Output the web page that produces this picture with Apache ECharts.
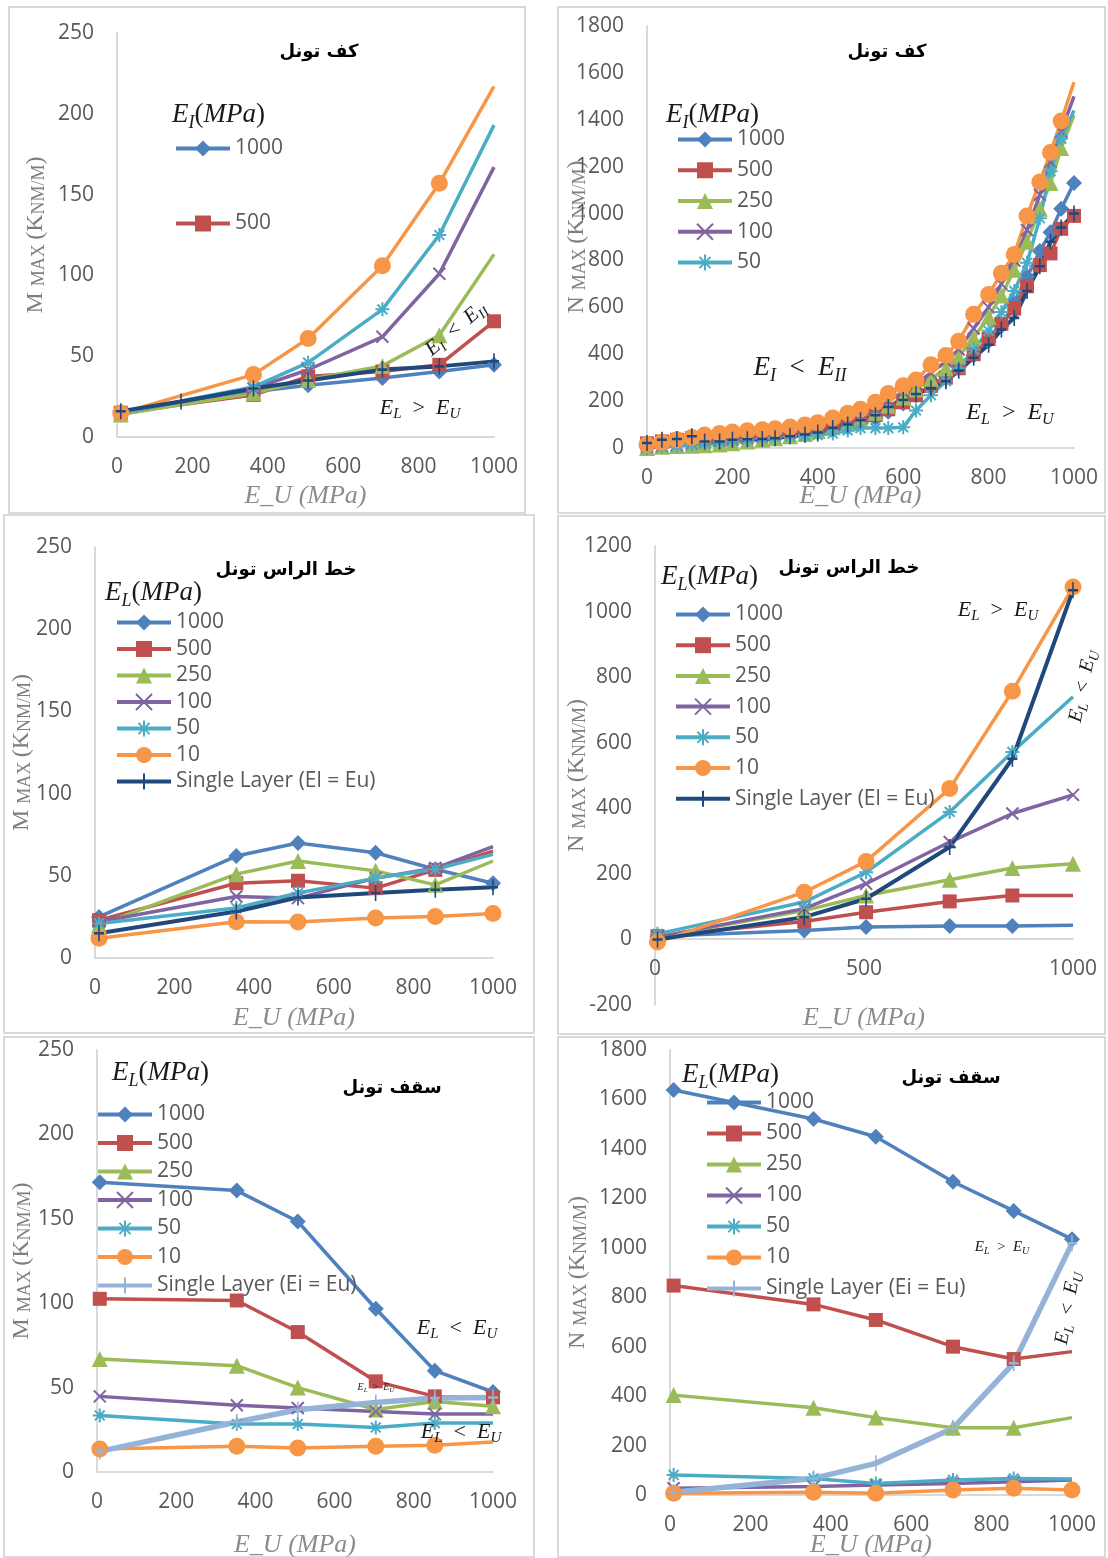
<!DOCTYPE html>
<html><head><meta charset="utf-8">
<script src="https://cdn.jsdelivr.net/npm/echarts@6/dist/echarts.min.js"></script>
<style>html,body{margin:0;padding:0;background:#fff}#c{width:1108px;height:1558px}</style>
</head><body><div id="c"></div>
<script>
// ---------- DATA ----------
// Panel 1: floor, M max
const p1X = [10, 362, 507, 704, 855, 1000];
const p1SingleX = [10, 170, 362, 507, 704, 855, 1000];
const p1_1000 = [14, 28, 32, 36.5, 40.6, 44.7];
const p1_500 = [15, 26, 37.5, 40.6, 44.7, 71.6];
const p1_250 = [14, 27, 35.5, 44, 63, 113];
const p1_100 = [15, 30, 41.6, 62, 101, 167];
const p1_50 = [15, 31, 46, 79, 125, 193];
const p1_10 = [14.8, 38.6, 61, 106, 157, 217];
const p1_single = [16, 22, 30, 35, 41.7, 43.7, 46.8];

// Panel 2: floor, N max
const p2X = [0, 35, 70, 105, 135, 170, 200, 235, 270, 300, 335, 370, 400, 435, 470, 500, 535, 565, 600, 630, 665, 700, 730, 765, 800, 830, 860, 890, 920, 945, 970, 1000];
const p2_1000 = [10, 15, 20, 25, 30, 34, 38, 42, 46, 50, 55, 60, 66, 76, 88, 104, 126, 155, 190, 225, 265, 305, 345, 395, 455, 520, 620, 730, 840, 920, 1020, 1130];
const p2_500 = [20, 28, 35, 42, 45, 50, 55, 60, 65, 70, 80, 90, 100, 110, 118, 125, 140, 165, 195, 225, 265, 300, 340, 400, 465, 530, 595, 690, 780, 830, 935, 990];
const p2_250 = [0, 5, 8, 10, 12, 15, 20, 28, 35, 42, 50, 60, 72, 88, 105, 125, 150, 180, 215, 250, 295, 340, 390, 470, 560, 650, 760, 880, 1020, 1130, 1280, 1420];
const p2_100 = [5, 8, 12, 18, 24, 30, 35, 42, 50, 58, 65, 75, 85, 100, 118, 138, 165, 200, 240, 275, 320, 370, 420, 510, 600, 700, 800, 930, 1080, 1220, 1350, 1500];
const p2_50 = [0, 5, 10, 15, 20, 25, 30, 35, 40, 45, 48, 52, 55, 62, 75, 85, 85, 85, 88, 160, 225, 285, 340, 420, 500, 580, 670, 790, 980, 1180, 1320, 1440];
const p2_10 = [15, 25, 35, 45, 55, 62, 68, 74, 78, 82, 90, 98, 108, 128, 148, 165, 195, 232, 265, 290, 355, 395, 455, 570, 655, 745, 825, 990, 1135, 1260, 1395, 1560];
const p2_single = [21, 35, 38, 50, 28, 28, 35, 37, 38, 42, 50, 58, 66, 85, 100, 118, 140, 175, 205, 230, 255, 285, 330, 385, 440, 505, 555, 670, 775, 880, 940, 1000];

// Panel 3: crown line, M max
const p3X = [10, 355, 510, 705, 855, 1000];
const p3_1000 = [25, 62, 70, 64, 54, 45.5];
const p3_500 = [23, 45.5, 47, 42.5, 53.6, 65];
const p3_250 = [20, 51, 59, 53, 44.5, 59];
const p3_100 = [22, 37.4, 36.4, 48.6, 54.7, 67.8];
const p3_50 = [21, 30.4, 39.5, 48.6, 54, 63];
const p3_10 = [12, 22, 21.9, 24.3, 25.3, 27];
const p3_single = [15, 28.3, 36.8, 39.5, 41.5, 43];

// Panel 4: crown line, N max
const p4X = [6, 357, 505, 705, 855, 1000];
const p4_1000 = [10, 27, 38, 41, 41, 43];
const p4_500 = [10, 55, 83, 116, 134, 134];
const p4_250 = [7, 88, 134, 182, 218, 231];
const p4_100 = [7, 94, 170, 297, 384, 441];
const p4_50 = [17, 114, 205, 389, 572, 740];
const p4_10 = [-8, 144, 238, 460, 757, 1075];
const p4_single = [0, 68, 124, 282, 551, 1065];

// Panel 5: roof, M max
const p5X = [7, 353, 507, 704, 853, 1000];
const p5_1000 = [171.7, 166.7, 148.4, 96.7, 60, 47.4];
const p5_500 = [102.6, 101.6, 82.9, 53.7, 44.8, 44.2];
const p5_250 = [67, 63, 50, 37, 41.8, 38.9];
const p5_100 = [44.8, 39.5, 37.9, 35.9, 34.3, 34.3];
const p5_50 = [33.5, 28.4, 28.4, 26.4, 29, 29];
const p5_10 = [13.6, 15.2, 14.2, 15.2, 15.8, 17.8];
const p5_single = [12.2, 29.6, 36.9, 41.2, 43.8, 44.2];

// Panel 6: roof, N max
const p6X = [9, 357, 512, 704, 855, 1000];
const p6_1000 = [1638, 1521, 1449, 1267, 1149, 1035];
const p6_500 = [847, 771, 708, 600, 550, 580];
const p6_250 = [404, 353, 313, 272, 272, 313];
const p6_100 = [27, 34, 40, 47, 54, 61];
const p6_50 = [81, 67, 47, 61, 67, 65];
const p6_10 = [7, 11, 7, 20, 27, 20];
const p6_single = [11, 67, 128, 270, 533, 1018];

const SINGLE_L = 'Single Layer (El = Eu)';
const SINGLE_I = 'Single Layer (Ei = Eu)';
const panelTitles = ['كف تونل', 'كف تونل', 'خط الراس تونل', 'خط الراس تونل', 'سقف تونل', 'سقف تونل'];
const yNamesBig = ['M', 'N', 'M', 'N', 'M', 'N'];
const yRanges = [[0, 250, 50], [0, 1800, 200], [0, 250, 50], [-200, 1200, 200], [0, 250, 50], [0, 1800, 200]];
const xIntervals = [200, 200, 200, 500, 200, 200];

// ---------- STYLE ----------
const COL = {'1000': '#4F81BD', '500': '#C0504D', '250': '#9BBB59', '100': '#8064A2', '50': '#4BACC6', '10': '#F79646', single: '#1F497D', singleLight: '#95B3D7'};
const SYM = {
  '1000': {symbol: 'diamond', size: 16},
  '500': {symbol: 'rect', size: 14},
  '250': {symbol: 'triangle', size: 16},
  '100': {symbol: 'path://M0,0L10,10M10,0L0,10', size: 12, stroke: true},
  '50': {symbol: 'path://M5,0L5,10M0,5L10,5M1.5,1.5L8.5,8.5M8.5,1.5L1.5,8.5', size: 14, stroke: true},
  '10': {symbol: 'circle', size: 17},
  single: {symbol: 'path://M5,0L5,16M0,8L10,8', size: [10, 16], stroke: true},
  singleLight: {symbol: 'path://M5,0L5,16M0,8L10,8', size: [10, 16], stroke: true}
};

const grids = [
  {left: 117, top: 33, width: 377, height: 404},
  {left: 647, top: 26, width: 427, height: 422},
  {left: 95, top: 547, width: 398, height: 411},
  {left: 655, top: 546, width: 418, height: 459},
  {left: 97, top: 1050, width: 396, height: 422},
  {left: 670, top: 1050, width: 402, height: 445}
];
const yNameGaps = [69, 58, 61, 66, 63, 80];
const xNameGaps = [46, 35, 47, 66, 60, 37];
const xOffsets = [0, 0, 0, -66, 0, 0];

function mk(panel, key, name, xs, ys, opts) {
  opts = opts || {};
  const c = COL[key];
  const s = SYM[key];
  const n = xs.length;
  const data = xs.map(function (x, i) {
    const d = {value: [x, ys[i]]};
    if (opts.noLast && i === n - 1) d.symbol = 'none';
    return d;
  });
  return {
    type: 'line', name: name, xAxisIndex: panel, yAxisIndex: panel, data: data,
    symbol: s.symbol, symbolSize: s.size, symbolKeepAspect: false,
    lineStyle: {color: c, width: opts.width || 3.5},
    itemStyle: s.stroke ? {color: c, borderColor: c, borderWidth: 2} : {color: c},
    emphasis: {disabled: true}, z: 2 + (opts.z || 0)
  };
}

const series = [
  mk(0, '1000', '1000', p1X, p1_1000),
  mk(0, '500', '500', p1X, p1_500),
  mk(0, '250', '250', p1X, p1_250, {noLast: true}),
  mk(0, '100', '100', p1X, p1_100, {noLast: true}),
  mk(0, '50', '50', p1X, p1_50, {noLast: true}),
  mk(0, '10', '10', p1X, p1_10, {noLast: true}),
  mk(0, 'single', SINGLE_L, p1SingleX, p1_single, {width: 4}),

  mk(1, '1000', '1000', p2X, p2_1000),
  mk(1, '500', '500', p2X, p2_500),
  mk(1, '250', '250', p2X, p2_250, {noLast: true}),
  mk(1, '100', '100', p2X, p2_100, {noLast: true}),
  mk(1, '50', '50', p2X, p2_50, {noLast: true}),
  mk(1, '10', '10', p2X, p2_10, {noLast: true}),
  mk(1, 'single', SINGLE_L, p2X, p2_single, {width: 4}),

  mk(2, '1000', '1000', p3X, p3_1000),
  mk(2, '500', '500', p3X, p3_500, {noLast: true}),
  mk(2, '250', '250', p3X, p3_250, {noLast: true}),
  mk(2, '100', '100', p3X, p3_100, {noLast: true}),
  mk(2, '50', '50', p3X, p3_50, {noLast: true}),
  mk(2, '10', '10', p3X, p3_10),
  mk(2, 'single', SINGLE_L, p3X, p3_single, {width: 4}),

  mk(3, '1000', '1000', p4X, p4_1000, {noLast: true}),
  mk(3, '500', '500', p4X, p4_500, {noLast: true}),
  mk(3, '250', '250', p4X, p4_250),
  mk(3, '100', '100', p4X, p4_100),
  mk(3, '50', '50', p4X, p4_50, {noLast: true}),
  mk(3, '10', '10', p4X, p4_10),
  mk(3, 'single', SINGLE_L, p4X, p4_single, {width: 4}),

  mk(4, '1000', '1000', p5X, p5_1000),
  mk(4, '500', '500', p5X, p5_500),
  mk(4, '250', '250', p5X, p5_250),
  mk(4, '100', '100', p5X, p5_100, {noLast: true}),
  mk(4, '50', '50', p5X, p5_50, {noLast: true}),
  mk(4, '10', '10', p5X, p5_10, {noLast: true}),
  mk(4, 'singleLight', SINGLE_I, p5X, p5_single, {width: 5.5}),

  mk(5, '1000', '1000', p6X, p6_1000),
  mk(5, '500', '500', p6X, p6_500, {noLast: true}),
  mk(5, '250', '250', p6X, p6_250, {noLast: true}),
  mk(5, '100', '100', p6X, p6_100, {noLast: true}),
  mk(5, '50', '50', p6X, p6_50, {noLast: true}),
  mk(5, '10', '10', p6X, p6_10),
  mk(5, 'singleLight', SINGLE_I, p6X, p6_single, {width: 5.5})
];

const axisLine = {show: true, lineStyle: {color: '#d9d9d9', width: 2}};
const tickLabel = {color: '#595959', fontSize: 21, fontFamily: 'Open Sans', formatter: function (v) { return String(v); }};
const xAxis = grids.map(function (g, i) {
  return {
    type: 'value', gridIndex: i, min: 0, max: 1000, interval: xIntervals[i], position: 'bottom', offset: xOffsets[i],
    axisLine: Object.assign({onZero: false}, axisLine), axisTick: {show: false}, splitLine: {show: false},
    axisLabel: Object.assign({margin: 20}, tickLabel),
    name: 'E_U (MPa)', nameLocation: 'middle', nameGap: xNameGaps[i], nameMoveOverlap: false,
    nameTextStyle: {fontFamily: 'Liberation Serif', fontStyle: 'italic', fontSize: 26, color: '#8c8c8c'}
  };
});
const yAxis = grids.map(function (g, i) {
  const r = yRanges[i];
  return {
    type: 'value', gridIndex: i, min: r[0], max: r[1], interval: r[2],
    axisLine: axisLine, axisTick: {show: false}, splitLine: {show: false},
    axisLabel: Object.assign({margin: 23}, tickLabel),
    name: '{b|' + yNamesBig[i] + ' }{c|MAX }{b|(K}{c|NM/M}{b|)}',
    nameLocation: 'middle', nameGap: yNameGaps[i], nameMoveOverlap: false,
    nameTextStyle: {rich: {
      b: {fontFamily: 'Liberation Serif', fontSize: 24, color: '#7f7f7f', lineHeight: 24, verticalAlign: 'bottom'},
      c: {fontFamily: 'Liberation Serif', fontSize: 18, color: '#7f7f7f', lineHeight: 20, verticalAlign: 'bottom'}
    }}
  };
});

const EL_LIST = ['1000', '500', '250', '100', '50', '10'];
function legend(left, top, gap, data) {
  return {
    orient: 'vertical', left: left, top: top, itemGap: gap, padding: 0,
    itemWidth: 54, itemHeight: 20, selectedMode: false, data: data,
    lineStyle: {width: 4},
    textStyle: {color: '#595959', fontSize: 21, fontFamily: 'Open Sans', lineHeight: 20}
  };
}
const legends = [
  legend(174, 138, 54, ['1000', '500']),
  legend(676, 129, 9.75, ['1000', '500', '250', '100', '50']),
  legend(115, 612, 5.5, EL_LIST.concat([SINGLE_L])),
  legend(674, 604, 9.7, EL_LIST.concat([SINGLE_L])),
  legend(96, 1104, 7.5, EL_LIST.concat([SINGLE_I])),
  legend(705, 1092, 10, EL_LIST.concat([SINGLE_I]))
];

function richSet(S, color) {
  const f = 'Liberation Serif';
  return {
    i: {fontFamily: f, fontStyle: 'italic', fontSize: S, lineHeight: Math.round(S * 1.25), verticalAlign: 'middle', fill: color},
    s: {fontFamily: f, fontStyle: 'italic', fontSize: Math.round(S * 0.68), lineHeight: Math.round(S * 0.68), verticalAlign: 'bottom', fill: color},
    n: {fontFamily: f, fontSize: S, lineHeight: Math.round(S * 1.25), verticalAlign: 'middle', fill: color}
  };
}
function rtext(x, y, text, S, rot, align, color) {
  color = color || '#1a1a1a';
  return {
    type: 'text', x: x, y: y, rotation: (rot || 0) * Math.PI / 180, z: 100,
    style: {text: text, align: align || 'center', verticalAlign: 'middle', fill: color, rich: richSet(S, color)}
  };
}
function arabic(x, y, text) {
  return {type: 'text', x: x, y: y, z: 100,
    style: {text: text, align: 'center', verticalAlign: 'middle', fill: '#000', fontFamily: 'DejaVu Sans', fontWeight: 'bold', fontSize: 18}};
}
function border(x, y, w, h) {
  return {type: 'rect', shape: {x: x, y: y, width: w, height: h}, z: 0, style: {fill: 'none', stroke: '#d9d9d9', lineWidth: 2}};
}
const LGT = '{i|E}{s|L}{n|(}{i|MPa}{n|)}';
const LGI = '{i|E}{s|I}{n|(}{i|MPa}{n|)}';
const GT = '{i|E}{s|L}{n|  >  }{i|E}{s|U}';
const LT = '{i|E}{s|L}{n|  <  }{i|E}{s|U}';
const III = '{i|E}{s|I}{n|  <  }{i|E}{s|II}';

const graphics = [
  border(9, 7, 516, 506), border(558, 7, 547, 506),
  border(4, 515, 530, 518), border(558, 516, 547, 518),
  border(4, 1037, 530, 520), border(558, 1037, 547, 520),
  arabic(319, 52, panelTitles[0]), arabic(887, 52, panelTitles[1]),
  arabic(286, 570, panelTitles[2]), arabic(849, 568, panelTitles[3]),
  arabic(392, 1088, panelTitles[4]), arabic(951, 1078, panelTitles[5]),
  rtext(172, 115, LGI, 27, 0, 'left'), rtext(666, 115, LGI, 27, 0, 'left'),
  rtext(105, 593, LGT, 27, 0, 'left'), rtext(661, 577, LGT, 27, 0, 'left'),
  rtext(112, 1073, LGT, 27, 0, 'left'), rtext(682, 1075, LGT, 27, 0, 'left'),
  rtext(420, 408, GT, 22), rtext(456, 329, III, 21, 40),
  rtext(800, 368, III, 27), rtext(1010, 413, GT, 24),
  rtext(998, 610, GT, 22), rtext(1083, 686, LT, 20, 78),
  rtext(457, 1328, LT, 22), rtext(376, 1387, GT, 10), rtext(461, 1432, LT, 22),
  rtext(1002, 1247, GT, 15), rtext(1068, 1308, LT, 20, 80)
];

const chart = echarts.init(document.getElementById('c'), null, {renderer: 'canvas'});
chart.setOption({
  animation: false,
  backgroundColor: '#fff',
  grid: grids.map(function (g) { return Object.assign({containLabel: false, outerBoundsMode: 'none'}, g); }),
  xAxis: xAxis, yAxis: yAxis, legend: legends, series: series, graphic: graphics
});
</script></body></html>
